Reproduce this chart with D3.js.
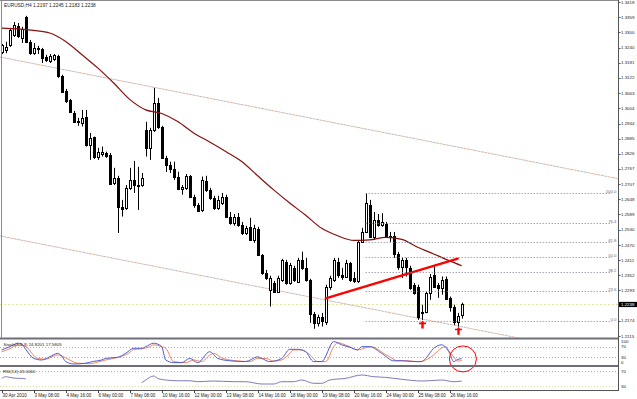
<!DOCTYPE html>
<html><head><meta charset="utf-8">
<script src="https://cdn.jsdelivr.net/npm/d3@7"></script>
<style>body{margin:0;background:#fff}svg{display:block}text{font-family:"Liberation Sans",Arial,sans-serif}</style>
</head><body><svg id="c" width="637" height="399"></svg>
<script>
// ---------- DATA ----------
const symbolTitle = "EURUSD,H4  1.2197 1.2245 1.2183 1.2238";
const opens = [1.3223,1.3231,1.3250,1.3290,1.3325,1.3278,1.3358,1.3262,1.3219,1.3235,1.3235,1.3204,1.3188,1.3196,1.3208,1.3130,1.3071,1.3036,1.2985,1.2954,
1.2947,1.2971,1.2861,1.2892,1.2815,1.2825,1.2829,1.2822,1.2712,1.2732,1.2620,1.2615,1.2693,1.2724,1.2704,1.2704,1.2919,1.2849,1.2919,1.3024,
1.2931,1.2810,1.2782,1.2767,1.2737,1.2689,1.2693,1.2740,1.2659,1.2626,1.2607,1.2720,1.2685,1.2654,1.2615,1.2634,1.2659,1.2581,1.2556,1.2580,
1.2549,1.2517,1.2541,1.2490,1.2533,1.2432,1.2361,1.2295,1.2322,1.2288,1.2334,1.2404,1.2322,1.2381,1.2327,1.2412,1.2381,1.2334,1.2201,1.2165,
1.2190,1.2171,1.2308,1.2334,1.2404,1.2354,1.2346,1.2400,1.2342,1.2330,1.2483,1.2522,1.2626,1.2502,1.2568,1.2549,1.2553,1.2506,1.2504,1.2435,
1.2385,1.2412,1.2381,1.2315,1.2307,1.2206,1.2210,1.2283,1.2354,1.2315,1.2303,1.2338,1.2264,1.2230,1.2171,1.2197];
const highs = [1.3254,1.3263,1.3317,1.3340,1.3336,1.3321,1.3364,1.3270,1.3258,1.3247,1.3239,1.3212,1.3215,1.3215,1.3212,1.3134,1.3079,1.3040,1.2993,1.2966,
1.2997,1.2997,1.2907,1.2893,1.2849,1.2854,1.2834,1.2829,1.2771,1.2740,1.2646,1.2704,1.2771,1.2798,1.2775,1.2751,1.2951,1.2927,1.3083,1.3044,
1.2935,1.2818,1.2795,1.2795,1.2756,1.2704,1.2747,1.2743,1.2666,1.2634,1.2737,1.2740,1.2693,1.2662,1.2662,1.2673,1.2666,1.2599,1.2591,1.2595,
1.2560,1.2545,1.2576,1.2549,1.2541,1.2435,1.2373,1.2350,1.2330,1.2350,1.2416,1.2412,1.2400,1.2389,1.2420,1.2444,1.2420,1.2338,1.2209,1.2198,
1.2205,1.2315,1.2350,1.2420,1.2420,1.2381,1.2412,1.2404,1.2365,1.2490,1.2537,1.2672,1.2646,1.2599,1.2591,1.2594,1.2560,1.2521,1.2521,1.2443,
1.2420,1.2420,1.2389,1.2322,1.2315,1.2237,1.2288,1.2357,1.2386,1.2322,1.2347,1.2347,1.2269,1.2237,1.2205,1.2245];
const lows = [1.3215,1.3218,1.3243,1.3282,1.3278,1.3258,1.3258,1.3212,1.3212,1.3215,1.3180,1.3184,1.3180,1.3188,1.3122,1.3063,1.3024,1.2989,1.2946,1.2935,
1.2932,1.2854,1.2802,1.2806,1.2802,1.2815,1.2810,1.2704,1.2704,1.2517,1.2581,1.2607,1.2685,1.2673,1.2607,1.2697,1.2815,1.2802,1.2911,1.2923,
1.2806,1.2755,1.2751,1.2724,1.2685,1.2666,1.2685,1.2658,1.2615,1.2599,1.2599,1.2677,1.2646,1.2607,1.2607,1.2626,1.2576,1.2549,1.2545,1.2541,
1.2509,1.2509,1.2486,1.2478,1.2428,1.2354,1.2334,1.2230,1.2283,1.2283,1.2326,1.2315,1.2315,1.2326,1.2322,1.2373,1.2327,1.2166,1.2143,1.2152,
1.2152,1.2158,1.2295,1.2326,1.2342,1.2334,1.2342,1.2326,1.2322,1.2322,1.2478,1.2517,1.2498,1.2490,1.2541,1.2541,1.2498,1.2482,1.2420,1.2373,
1.2342,1.2347,1.2295,1.2276,1.2178,1.2178,1.2204,1.2256,1.2303,1.2264,1.2276,1.2256,1.2210,1.2158,1.2152,1.2183];
const closes = [1.3250,1.3244,1.3309,1.3329,1.3286,1.3313,1.3262,1.3219,1.3239,1.3237,1.3200,1.3192,1.3208,1.3212,1.3130,1.3067,1.3032,1.2990,1.2950,1.2950,
1.2966,1.2861,1.2888,1.2815,1.2834,1.2834,1.2818,1.2708,1.2732,1.2619,1.2611,1.2693,1.2724,1.2704,1.2702,1.2732,1.2849,1.2919,1.3024,1.2931,
1.2810,1.2782,1.2767,1.2737,1.2689,1.2697,1.2740,1.2659,1.2626,1.2604,1.2724,1.2685,1.2654,1.2615,1.2646,1.2659,1.2581,1.2556,1.2581,1.2549,
1.2517,1.2537,1.2490,1.2537,1.2432,1.2361,1.2342,1.2342,1.2288,1.2342,1.2412,1.2322,1.2393,1.2334,1.2412,1.2381,1.2334,1.2201,1.2165,1.2190,
1.2175,1.2308,1.2342,1.2412,1.2354,1.2346,1.2400,1.2334,1.2330,1.2483,1.2522,1.2634,1.2503,1.2568,1.2549,1.2561,1.2503,1.2502,1.2432,1.2385,
1.2412,1.2385,1.2303,1.2283,1.2191,1.2209,1.2283,1.2347,1.2308,1.2303,1.2334,1.2260,1.2229,1.2171,1.2194,1.2238];

const timeLabelBars = [0,8,16,24,32,40,48,56,64,72,80,88,96,104,112];
const timeLabels = ["30 Apr 2010","3 May 08:00","4 May 16:00","6 May 00:00","7 May 08:00","10 May 16:00","12 May 00:00","13 May 08:00","14 May 16:00","18 May 00:00","19 May 08:00","20 May 16:00","24 May 00:00","25 May 08:00","26 May 16:00"];
const priceTicks = [1.3418,1.3359,1.3300,1.3240,1.3181,1.3122,1.3063,1.3004,1.2944,1.2885,1.2826,1.2767,1.2707,1.2648,1.2589,1.2530,1.2470,1.2411,1.2352,1.2293,1.2174,1.2115];
const lastPrice = 1.2238;

const maBars   = [0,4,8,12,16,20,24,28,32,36,40,44,48,52,56,60,64,68,72,76,80,84,88,92,96,100,104,108,112,115];
const maValues = [1.3316,1.3313,1.3307,1.3297,1.3264,1.3213,1.3161,1.3102,1.3038,1.2997,1.2983,1.2952,1.2907,1.2872,1.2835,1.2796,1.2740,1.2685,1.2634,1.2586,1.2535,1.2506,1.2488,1.2490,1.2500,1.2492,1.2461,1.2435,1.2408,1.2389];

const channelUpper = [[0,1.3202],[100,1.2895]];
const channelLower = [[0,1.2504],[100,1.2197]];
const redTrend = [[81,1.2262],[114,1.2417]];
const upArrows = [[105,1.2175],[114,1.2151]];

const fibStartBar = 91, fibHigh = 1.2672, fibLow = 1.2174;
const fibLevels = [0,23.6,38.2,50,61.8,76.4,100];

const stochTitle = "Stoch(5,3,3) 24.8201 17.5805";
const stochMainBars = [0,2,3,4,5,6,8,10,12,14,15,16,18,21,23,25,26,29,31,33,35,36,38,40,41,43,45,47,49,52,54,57,61,64,65,67,70,72,74,76,78,80,83,85,87,89,90,92,95,98,100,103,105,106,108,110,112,113,114,115];
const stochMain = [58,70,77,83,80,60,26,20,32,45,35,14,5,8,15,20,26,30,45,64,64,70,83,70,20,10,10,26,10,51,26,17,14,32,26,14,26,60,60,51,14,14,89,77,68,58,70,70,45,17,17,14,14,26,64,77,45,14,22,24.8];
const stochSignalBars = [0,2,4,5,6,9,11,13,14,16,17,19,22,24,26,28,30,32,33,35,37,38,40,41,43,46,48,50,52,53,55,58,62,64,66,68,70,72,73,75,77,79,81,83,84,86,87,89,91,92,93,96,97,99,101,104,106,108,110,111,112,113,114,115];
const stochSignal = [51,62,77,76,70,26,23,35,39,28,20,8,6,12,20,26,34,48,60,62,70,77,70,64,14,10,20,14,38,45,28,18,14,26,26,16,20,45,58,58,40,14,14,70,85,76,70,58,66,70,68,40,32,17,18,13.6,20,39,66,70,50,32,16,17.6];
const stochLevels = [70,30];
const stochAxisLabels = [100,70,30,0];
const stochCircle = [115.3,24];

const rsiTitle = "RSI(14) 43.0060";
const rsiBars = [0,1,2,4,5,6,7,35,36,38,39,41,44,47,49,53,58,61,65,68,70,73,75,78,80,82,86,90,93,96,100,105,107,110,113,115];
const rsiValues = [50.4,54.8,53,50.4,50.4,48.7,null,38.8,46,56.7,50.4,46,44,44,41.5,43.3,41.5,41.5,35.3,35.3,41.5,41.5,46,37.2,37.2,46,50.4,59.3,54.8,53,47.9,43.3,44.1,46,41.5,43];
const rsiLevels = [70,30];

// ---------- LAYOUT ----------
const svg = d3.select('#c');
const axisX = 618;
const main = {top:1, bottom:337.5};
const stP = {top:339.5, bottom:365};
const rsP = {top:367, bottom:390};

const x = d3.scaleLinear().domain([0,115]).range([1.7,461.7]);
const y = d3.scaleLinear().domain([1.2115,1.3418]).range([336,2]);
const yS = d3.scaleLinear().domain([0,100]).range([365.3,338.7]);
const yR = d3.scaleLinear().domain([0,100]).range([397.25,359.75]);

const defs = svg.append('defs');
function clip(id, t, b){ defs.append('clipPath').attr('id',id).append('rect').attr('x',0).attr('y',t).attr('width',axisX).attr('height',b-t); }
clip('cm', main.top, main.bottom); clip('cs', stP.top, stP.bottom); clip('cr', rsP.top, rsP.bottom);

const gm = svg.append('g').attr('clip-path','url(#cm)');

// current price line
gm.append('line').attr('x1',0).attr('x2',axisX).attr('y1',Math.round(y(lastPrice))+0.5).attr('y2',Math.round(y(lastPrice))+0.5)
  .attr('stroke','#dfe89a').attr('stroke-width',1).attr('stroke-dasharray','2,2');

// channel lines (rays)
function ray(anc, color, dash, off){
  const [a,b]=anc; const slope=(b[1]-a[1])/(b[0]-a[0]);
  const b0=x.invert(0), b1=x.invert(axisX);
  gm.append('line').attr('x1',0).attr('x2',axisX)
    .attr('y1',y(a[1]+slope*(b0-a[0]))).attr('y2',y(a[1]+slope*(b1-a[0])))
    .attr('stroke',color).attr('stroke-width',1).attr('stroke-dasharray',dash).attr('stroke-dashoffset',off);
}
[channelUpper, channelLower].forEach(c=>{ ray(c,'#b4bccb','3,4',0); ray(c,'#ecb592','3,4',3.5); });

// fibonacci
const fibY = l => y(fibLow + (fibHigh-fibLow)*l/100);
const gf = svg.append('g');
fibLevels.forEach(l=>{
  const yy = Math.round(fibY(l))+0.5;
  gf.append('line').attr('x1',x(fibStartBar)).attr('x2',612).attr('y1',yy).attr('y2',yy)
    .attr('stroke','#7c7f98').attr('stroke-width',1).attr('stroke-dasharray','1,2');
  gf.append('text').attr('x',616.5).attr('y',yy-0.8).attr('text-anchor','end')
    .attr('font-size',4.3).attr('fill','#6a6a80').text(l.toFixed(1));
});

// candles
const gc = gm.append('g');
closes.forEach((c,i)=>{
  const cx = Math.round(x(i));
  const o = opens[i], h = highs[i], l = lows[i];
  gc.append('line').attr('x1',cx+0.5).attr('x2',cx+0.5).attr('y1',y(h)).attr('y2',y(l)).attr('stroke','#000').attr('stroke-width',1);
  const t = y(Math.max(o,c)), b = y(Math.min(o,c));
  if (c >= o) {
    gc.append('rect').attr('x',cx-0.5).attr('y',Math.round(t)+0.5).attr('width',2).attr('height',Math.max(1,Math.round(b-t)))
      .attr('fill','#fff').attr('stroke','#000').attr('stroke-width',1);
  } else {
    gc.append('rect').attr('x',cx-1).attr('y',Math.round(t)).attr('width',3).attr('height',Math.max(1,Math.round(b-t)+1)).attr('fill','#000');
  }
});

// moving average
gm.append('path').datum(maBars.map((b,i)=>[b,maValues[i]]))
  .attr('d', d3.line().x(d=>x(d[0])).y(d=>y(d[1])).curve(d3.curveMonotoneX))
  .attr('fill','none').attr('stroke','#8a0f0f').attr('stroke-width',1.2);

// red trendline
gm.append('line').attr('x1',x(redTrend[0][0])).attr('y1',y(redTrend[0][1])).attr('x2',x(redTrend[1][0])).attr('y2',y(redTrend[1][1]))
  .attr('stroke','#ff0000').attr('stroke-width',2.3).attr('stroke-linecap','round');

// up arrows
upArrows.forEach(([b,p])=>{
  const ax = Math.round(x(b))+0.5, ay = y(p);
  gm.append('path').attr('d',`M${ax},${ay} L${ax+1.5},${ay+2} L${ax+3.5},${ay+2} L${ax+3.5},${ay+3.6} L${ax+1.2},${ay+3.6} L${ax+1.2},${ay+8} L${ax-1.2},${ay+8} L${ax-1.2},${ay+3.6} L${ax-3.5},${ay+3.6} L${ax-3.5},${ay+2} L${ax-1.5},${ay+2} Z`)
    .attr('fill','#ff0000');
});

// title
svg.append('text').attr('x',4).attr('y',7).attr('font-size',4.8).attr('fill','#222').text(symbolTitle);

// ---------- STOCH ----------
const gs = svg.append('g').attr('clip-path','url(#cs)');
stochLevels.forEach(l=>{
  const yy = Math.round(yS(l))+0.5;
  gs.append('line').attr('x1',0).attr('x2',axisX).attr('y1',yy).attr('y2',yy).attr('stroke','#a8b6bf').attr('stroke-dasharray','1,2');
});
const lnS = d3.line().x(d=>x(d[0])).y(d=>yS(d[1])).curve(d3.curveMonotoneX);
gs.append('path').datum(stochSignalBars.map((b,i)=>[b,stochSignal[i]])).attr('d',lnS).attr('fill','none').attr('stroke','#f0845a').attr('stroke-width',1);
gs.append('path').datum(stochMainBars.map((b,i)=>[b,stochMain[i]])).attr('d',lnS).attr('fill','none').attr('stroke','#4b5bd6').attr('stroke-width',1);
svg.append('text').attr('x',3.5).attr('y',345.5).attr('font-size',4.4).attr('fill','#222').text(stochTitle);

// ---------- RSI ----------
const gr = svg.append('g').attr('clip-path','url(#cr)');
rsiLevels.forEach((l,k)=>{
  const yy = Math.round(yR(l))+0.5;
  gr.append('line').attr('x1',0).attr('x2',axisX).attr('y1',yy).attr('y2',yy).attr('stroke',k?'#dcdca0':'#a8b6bf').attr('stroke-dasharray','1,2');
});
gr.append('path').datum(rsiBars.map((b,i)=>[b,rsiValues[i]]))
  .attr('d', d3.line().defined(d=>d[1]!=null).x(d=>x(d[0])).y(d=>yR(d[1])).curve(d3.curveMonotoneX))
  .attr('fill','none').attr('stroke','#7a7ab8').attr('stroke-width',1);
svg.append('text').attr('x',3).attr('y',373).attr('font-size',4.4).attr('fill','#222').text(rsiTitle);

// stoch circle annotation
svg.append('ellipse').attr('cx',x(stochCircle[0])).attr('cy',yS(stochCircle[1])).attr('rx',13.5).attr('ry',13)
  .attr('fill','none').attr('stroke','#ff0000').attr('stroke-width',1);

// ---------- FRAME ----------
svg.append('line').attr('x1',0).attr('x2',axisX).attr('y1',0.5).attr('y2',0.5).attr('stroke','#8a8a8a');
svg.append('line').attr('x1',1.5).attr('x2',1.5).attr('y1',0).attr('y2',main.bottom).attr('stroke','#8a8a8a');
svg.append('rect').attr('x',0).attr('y',337.5).attr('width',axisX).attr('height',2).attr('fill','#6e6e78');
svg.append('rect').attr('x',0).attr('y',365).attr('width',axisX).attr('height',2).attr('fill','#6e6e78');
svg.append('line').attr('x1',0).attr('x2',axisX+0.5).attr('y1',390.5).attr('y2',390.5).attr('stroke','#555');
svg.append('line').attr('x1',axisX+0.5).attr('x2',axisX+0.5).attr('y1',0).attr('y2',391).attr('stroke','#555');

// price axis
const ga = svg.append('g').attr('font-size',4.4).attr('fill','#222');
priceTicks.forEach(p=>{
  const yy = y(p);
  ga.append('line').attr('x1',axisX).attr('x2',axisX+2.5).attr('y1',Math.round(yy)+0.5).attr('y2',Math.round(yy)+0.5).attr('stroke','#555');
  ga.append('text').attr('x',621).attr('y',yy).attr('dy','0.35em').text(p.toFixed(4));
});
const lp = y(lastPrice);
svg.append('rect').attr('x',619).attr('y',lp-2.6).attr('width',18).attr('height',5.2).attr('fill','#000');
svg.append('text').attr('x',621).attr('y',lp).attr('dy','0.35em').attr('font-size',4.4).attr('fill','#fff').text(lastPrice.toFixed(4));

// stoch / rsi axis labels
stochAxisLabels.forEach(l=>{
  const yy = Math.min(stP.bottom-3, Math.max(stP.top+1.5, yS(l)));
  svg.append('text').attr('x',621).attr('y',yy).attr('dy','0.35em').attr('font-size',4.4).attr('fill','#222').text(l);
});
rsiLevels.forEach(l=>{
  svg.append('text').attr('x',621).attr('y',yR(l)).attr('dy','0.35em').attr('font-size',4.4).attr('fill','#222').text(l);
});

// time axis
timeLabelBars.forEach((b,k)=>{
  const xx = Math.round(x(b))+0.5;
  svg.append('line').attr('x1',xx).attr('x2',xx).attr('y1',390).attr('y2',393).attr('stroke','#444');
  svg.append('text').attr('x',xx).attr('y',397).attr('font-size',4.5).attr('fill','#222').text(timeLabels[k]);
});
</script></body></html>
